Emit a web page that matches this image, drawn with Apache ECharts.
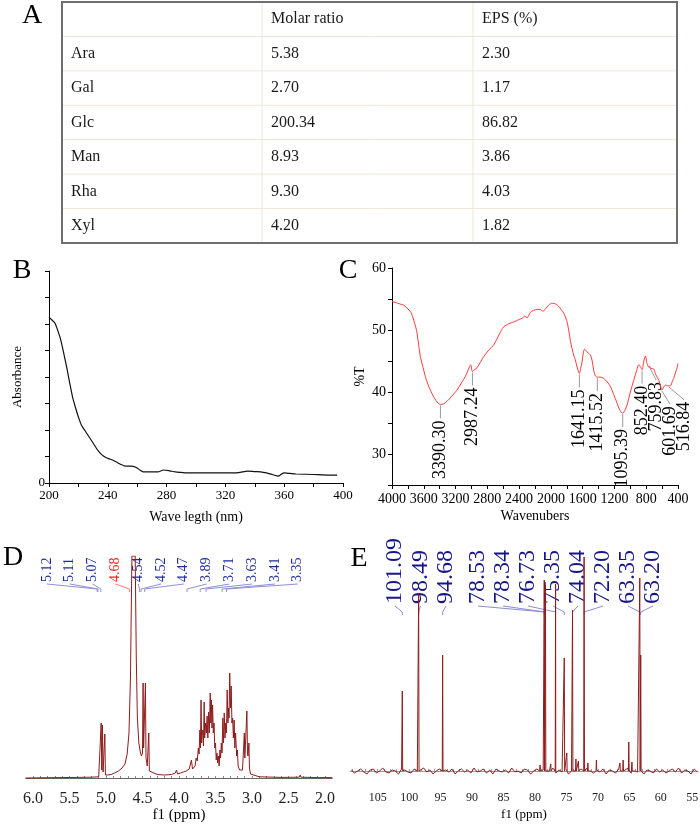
<!DOCTYPE html>
<html>
<head>
<meta charset="utf-8">
<script src="https://cdn.jsdelivr.net/npm/echarts@6.0.0/dist/echarts.min.js"></script>
<style>
  html, body { margin: 0; padding: 0; background: #fff; }
  #chart { width: 700px; height: 824px; }
</style>
</head>
<body>
<div id="chart"></div>
<script>
// ---- A: monosaccharide composition table
const tableHeader = ['', 'Molar ratio', 'EPS (%)'];
const sugars = ['Ara', 'Gal', 'Glc', 'Man', 'Rha', 'Xyl'];
const molarRatio = ['5.38', '2.70', '200.34', '8.93', '9.30', '4.20'];
const epsPercent = ['2.30', '1.17', '86.82', '3.86', '4.03', '1.82'];

// ---- B: UV spectrum
const uvWave = [200, 202, 204, 206, 208, 210, 212, 214, 216, 218, 220, 222, 226, 230, 233, 236, 239, 241, 244, 246,
  249, 252, 256, 258, 260, 262, 264, 268, 274, 278, 282, 286, 290, 294, 300, 310, 320, 325, 330, 335,
  340, 344, 348, 352, 356, 358, 360, 364, 368, 380, 390, 396];
const uvAbs = [6.26, 6.15, 6.04, 5.75, 5.40, 4.90, 4.38, 3.80, 3.25, 2.85, 2.49, 2.19, 1.85, 1.51, 1.25, 1.06, 0.95, 0.91, 0.85, 0.79,
  0.70, 0.64, 0.64, 0.62, 0.57, 0.48, 0.42, 0.42, 0.42, 0.49, 0.46, 0.42, 0.40, 0.38, 0.38, 0.38, 0.38, 0.38, 0.40, 0.45,
  0.43, 0.42, 0.38, 0.32, 0.26, 0.33, 0.38, 0.36, 0.34, 0.32, 0.30, 0.30];

// ---- C: FT-IR spectrum
const irWn = [4000, 3900, 3853, 3800, 3760, 3727, 3700, 3685, 3660, 3643,
  3610, 3580, 3550, 3517, 3470, 3420, 3390, 3350, 3307, 3250,
  3182, 3120, 3077, 3040, 3010, 2987, 2960, 2930, 2846, 2780,
  2720, 2650, 2594, 2530, 2468, 2400, 2363, 2330, 2300, 2260,
  2216, 2170, 2132, 2100, 2070, 2027, 1990, 1964, 1930, 1901,
  1870, 1838, 1800, 1776, 1755, 1734, 1710, 1692, 1670, 1641,
  1625, 1608, 1590, 1575, 1555, 1530, 1503, 1480, 1461, 1440, 1415,
  1380, 1335, 1290, 1251, 1210, 1167, 1130, 1095, 1070, 1041,
  1000, 957, 920, 894, 870, 852, 830, 810, 790, 768,
  760, 740, 705, 680, 642, 620, 601, 580, 558, 530,
  516, 495, 470, 454, 430, 410, 400];
const irT = [54.6, 54.2, 54.0, 53.4, 52.8, 51.6, 50.4, 49.5, 47.2, 45.7,
  44.0, 42.5, 41.3, 40.3, 39.1, 38.2, 38.0, 38.1, 38.5, 39.3,
  40.3, 41.6, 42.5, 43.6, 44.4, 43.3, 43.6, 43.9, 45.7, 46.8,
  47.6, 49.3, 50.5, 51.0, 51.3, 51.7, 51.9, 52.2, 52.0, 52.8,
  53.2, 53.3, 53.3, 53.0, 53.4, 54.0, 54.3, 54.3, 54.1, 53.8,
  53.3, 52.7, 51.5, 50.0, 48.3, 47.0, 45.8, 45.2, 44.0, 43.0,
  43.8, 44.8, 46.5, 46.9, 46.6, 46.3, 46.0, 45.0, 43.5, 42.6, 42.4,
  42.4, 42.2, 41.6, 40.9, 39.6, 38.2, 37.0, 36.6, 37.0, 37.9,
  40.0, 41.9, 43.5, 44.4, 44.0, 43.6, 45.0, 45.8, 44.6, 44.0,
  44.2, 43.8, 43.7, 42.8, 41.9, 41.0, 40.3, 40.8, 41.1, 41.0,
  41.0, 41.0, 41.8, 42.2, 43.2, 44.0, 44.6];
const irPeakWn = [3390.30, 2987.24, 1641.15, 1415.52, 1095.39, 852.40, 759.83, 601.69, 516.84];
const irPeakT = [38.0, 43.3, 43.0, 42.4, 36.6, 43.6, 44.2, 40.3, 41.0];

// ---- D: 1H NMR
const dPpm = [6.10, 5.80, 5.50, 5.20, 5.10, 5.075, 5.066, 5.058, 5.049, 5.040, 5.030, 5.016, 5.008, 4.98, 4.93, 4.88, 4.83, 4.78,
  4.74, 4.71, 4.685, 4.665, 4.645, 4.600, 4.585, 4.57, 4.55, 4.53, 4.515, 4.500, 4.492, 4.485, 4.470, 4.460, 4.452, 4.435,
  4.422, 4.414, 4.406, 4.38, 4.30, 4.20, 4.10, 4.05, 4.035, 4.02, 4.00, 3.98, 3.96, 3.94, 3.92, 3.90, 3.88, 3.86,
  3.845, 3.830, 3.815, 3.80, 3.78, 3.765, 3.75, 3.735, 3.725, 3.714, 3.706, 3.698, 3.69, 3.68, 3.672, 3.665, 3.655, 3.648,
  3.635, 3.625, 3.615, 3.605, 3.595, 3.585, 3.572, 3.565, 3.555, 3.548, 3.54, 3.53, 3.52, 3.51, 3.50, 3.49, 3.48, 3.47,
  3.46, 3.45, 3.44, 3.43, 3.42, 3.41, 3.40, 3.39, 3.38, 3.37, 3.36, 3.35, 3.34, 3.33, 3.32, 3.315, 3.305, 3.295,
  3.285, 3.275, 3.265, 3.255, 3.245, 3.235, 3.225, 3.21, 3.20, 3.19, 3.17, 3.15, 3.13, 3.105, 3.098, 3.09,
  3.07, 3.062, 3.055, 3.042, 3.035, 3.02, 3.00, 2.90, 2.60, 2.35, 2.34, 2.33, 2.10, 1.90];
const dInt = [0.0, 0.3, 0.5, 0.8, 1.2, 2, 55, 8, 53, 6, 4, 44, 3, 3, 3.5, 5, 7, 10,
  14, 24, 45, 100, 222, 222, 120, 60, 35, 26, 22, 25, 95, 30, 28, 95, 20, 12,
  11, 45, 7, 5, 3.5, 3, 3.5, 5, 8, 4, 3, 5, 4, 6, 5, 7, 6, 9,
  8, 18, 9, 8, 12, 20, 17, 30, 24, 48, 30, 78, 35, 45, 48, 32, 76, 40,
  55, 45, 62, 40, 66, 45, 85, 55, 78, 50, 73, 45, 55, 30, 35, 18, 25, 15,
  22, 12, 28, 20, 35, 25, 60, 35, 65, 40, 55, 45, 88, 55, 70, 60, 105, 70,
  92, 55, 60, 40, 58, 30, 45, 22, 28, 12, 8, 6, 8, 45, 20, 18,
  67, 25, 22, 35, 10, 4, 2.5, 1.2, 0.6, 0.8, 3, 0.8, 0.4, 0.4];
const dLabels = ['5.12', '5.11', '5.07', '4.68', '4.54', '4.52', '4.47', '3.89', '3.71', '3.63', '3.41', '3.35'];
const dTickLabels = [2.0, 2.5, 3.0, 3.5, 4.0, 4.5, 5.0, 5.5, 6.0];

// ---- E: 13C NMR
const eNoiseStart = 109.2;   // baseline samples every 0.5 ppm
const eNoise = [1, -2, 0, 2, -1, -3, 1, 2, -2, 0,
  3, -1, -2, 1, 0, -3, 2, 1, -1, -2,
  2, 0, -2, 3, -1, 1, -3, 0, 2, -2,
  1, -1, 2, -3, 0, 2, -1, 1, -2, 3,
  -1, 0, 2, -2, 1, -3, 2, 0, -1, 1,
  -2, 3, -1, 0, -2, 2, 1, -3, 0, 2,
  -1, 1, -2, 0, 3, -2, 1, -1, 2, -3,
  0, 1, -2, 2, -1, 3, 0, -2, 1, -1,
  2, -3, 1, 0, -2, 2, -1, 1, 3, -2,
  0, -1, 2, -3, 1, 0, -2, 2, -1, 1,
  -2, 0, 2, -1, 3, -2, 1, 0, -3, 2, -1];
const ePeakPpm = [101.09, 98.49, 94.68, 79.2, 78.53, 78.34, 77.5, 76.73, 75.35, 74.95, 74.04, 73.5, 73.1, 72.20, 71.6,
  70.24, 66.5, 66.0, 65.1, 64.6, 63.35, 63.20];
const ePeakInt = [80, 178, 116, 6, 191, 186, 7, 187, 113, 18, 161, 12, 10, 214, 8,
  11, 8, 11, 29, 9, 193, 116];
const eLabels = ['101.09', '98.49', '94.68', '78.53', '78.34', '76.73', '75.35', '74.04', '72.20', '63.35', '63.20'];
const eTickLabels = [55, 60, 65, 70, 75, 80, 85, 90, 95, 100, 105];

const SERIF = '"Liberation Serif", "Times New Roman", serif';

// build the 13C trace: noisy baseline + sharp lines, sorted along the axis
const eTrace = eNoise.map((v, i) => [eNoiseStart - i * 0.5, v]);
ePeakPpm.forEach((p, i) => {
  eTrace.push([p + 0.06, 0], [p, ePeakInt[i]], [p - 0.06, 0]);
});
eTrace.sort((a, b) => b[0] - a[0]);

// ---- table graphic
const tLeft = 62, tTop = 2, tRight = 677, tBottom = 243;
const colX = [62, 262, 473];
const rowH = (tBottom - tTop) / (sugars.length + 1);
const tableRows = [tableHeader].concat(sugars.map((s, i) => [s, molarRatio[i], epsPercent[i]]));
const graphics = [];
for (let r = 1; r < tableRows.length; r++) {
  graphics.push({ type: 'line', shape: { x1: tLeft, y1: tTop + r * rowH, x2: tRight, y2: tTop + r * rowH },
    style: { stroke: '#ebe8d6', lineWidth: 1 } });
}
colX.slice(1).forEach(x => {
  graphics.push({ type: 'line', shape: { x1: x, y1: tTop, x2: x, y2: tBottom }, style: { stroke: '#ebe8d6', lineWidth: 1 } });
});
graphics.push({ type: 'rect', shape: { x: tLeft, y: tTop, width: tRight - tLeft, height: tBottom - tTop },
  style: { fill: 'none', stroke: '#6e6e6e', lineWidth: 2 } });
tableRows.forEach((row, r) => {
  row.forEach((txt, c) => {
    if (!txt) return;
    graphics.push({ type: 'text', x: colX[c] + 9, y: tTop + (r + 0.5) * rowH,
      style: { text: txt, font: '16px ' + SERIF, fill: '#1a1a1a', align: 'left', verticalAlign: 'middle',
        textAlign: 'left', textVerticalAlign: 'middle' } });
  });
});
// panel letters
[['A', 32, 16], ['B', 22, 271], ['C', 348, 271], ['D', 13, 558], ['E', 359, 559]].forEach(l => {
  graphics.push({ type: 'text', x: l[1], y: l[2],
    style: { text: l[0], font: '28px ' + SERIF, fill: '#000', align: 'center', verticalAlign: 'middle',
      textAlign: 'center', textVerticalAlign: 'middle' } });
});

// ---- annotation renderers
function irLabel(params, api) {
  const i = params.dataIndex;
  // push crowded labels to the right so the rotated texts don't overlap
  let prev = -Infinity, lx = 0;
  for (let j = 0; j <= i; j++) {
    const px = api.coord([irPeakWn[j], irPeakT[j]])[0];
    lx = Math.max(px, prev + 14);
    prev = lx;
  }
  const p = api.coord([api.value(0), api.value(1)]);
  const top = p[1] + 14;
  return { type: 'group', children: [
    { type: 'line', shape: { x1: p[0], y1: p[1] + 1, x2: lx, y2: top }, style: { stroke: '#9a9a9a', lineWidth: 1 } },
    { type: 'text', x: lx, y: top + 2, rotation: Math.PI / 2,
      style: { text: irPeakWn[i].toFixed(2), font: '18px ' + SERIF, fill: '#000',
        align: 'right', verticalAlign: 'middle', textAlign: 'right', textVerticalAlign: 'middle' } }
  ] };
}

function dLabel(params, api) {
  const i = params.dataIndex;
  const lx = 47 + i * 22.8;
  const px = api.coord([api.value(0), 0])[0];
  const red = dLabels[i] === '4.68';
  return { type: 'group', children: [
    { type: 'polyline', shape: { points: [[lx, 584], [px, 589], [px, 592]] },
      style: { stroke: red ? '#ff7a7a' : '#8f8fd6', lineWidth: 1, fill: 'none' } },
    { type: 'text', x: lx, y: 582, rotation: Math.PI / 2,
      style: { text: dLabels[i], font: '14px ' + SERIF, fill: red ? '#ff1a1a' : '#1c2aa0',
        align: 'left', verticalAlign: 'middle', textAlign: 'left', textVerticalAlign: 'middle' } }
  ] };
}

function eLabel(params, api) {
  const i = params.dataIndex;
  const lx = i < 3 ? 395 + i * 25.5 : 478 + (i - 3) * 25;
  const px = api.coord([api.value(0), 0])[0];
  return { type: 'group', children: [
    { type: 'polyline', shape: { points: [[lx, 606], [px, 612], [px, 615]] },
      style: { stroke: '#8c8cd2', lineWidth: 1, fill: 'none' } },
    { type: 'text', x: lx, y: 604, rotation: Math.PI / 2,
      style: { text: eLabels[i], font: '24px ' + SERIF, fill: '#16168a',
        align: 'left', verticalAlign: 'middle', textAlign: 'left', textVerticalAlign: 'middle' } }
  ] };
}

const axisText = (size, color) => ({ fontFamily: SERIF, fontSize: size, color: color || '#000' });
const blackLine = { show: true, lineStyle: { color: '#000', width: 1 } };

const dTicks = [];
for (let v = 20; v <= 60; v++) dTicks.push(v / 10);
const eTicks = [];
for (let v = 55; v <= 109; v++) eTicks.push(v);

const option = {
  animation: false,
  backgroundColor: '#fff',
  graphic: { elements: graphics },
  grid: [
    { left: 49, top: 271, width: 294, height: 212, outerBoundsMode: 'none' },
    { left: 392, top: 268, width: 286, height: 217, outerBoundsMode: 'none' },
    { left: 25.7, top: 556, width: 306.6, height: 231, outerBoundsMode: 'none' },
    { left: 350, top: 557, width: 348, height: 231, outerBoundsMode: 'none' }
  ],
  xAxis: [
    { gridIndex: 0, type: 'value', min: 200, max: 400, interval: 20,
      name: 'Wave legth (nm)', nameLocation: 'middle', nameGap: 27, nameTextStyle: axisText(14),
      axisLine: blackLine, axisTick: { length: 4, lineStyle: { color: '#000' } },
      axisLabel: Object.assign(axisText(13), { margin: 6, formatter: v => (v % 40 === 0 ? v : '') }),
      splitLine: { show: false } },
    { gridIndex: 1, type: 'value', min: 400, max: 4000, interval: 200, inverse: true,
      name: 'Wavenubers', nameLocation: 'middle', nameGap: 24, nameTextStyle: axisText(14),
      axisLine: blackLine, axisTick: { length: 4, lineStyle: { color: '#000' } },
      axisLabel: Object.assign(axisText(14), { margin: 7, formatter: v => (v % 400 === 0 ? v : '') }),
      splitLine: { show: false } },
    { gridIndex: 2, type: 'value', min: 1.9, max: 6.1, inverse: true,
      name: 'f1 (ppm)', nameLocation: 'middle', nameGap: 21, nameTextStyle: axisText(15),
      axisLine: { show: true, lineStyle: { color: '#666', width: 1 } },
      axisTick: { inside: true, length: 2, customValues: dTicks, lineStyle: { color: '#888' } },
      axisLabel: Object.assign(axisText(16, '#222'), { margin: 4, customValues: dTickLabels, formatter: v => v.toFixed(1) }),
      splitLine: { show: false } },
    { gridIndex: 3, type: 'value', min: 54.1, max: 109.4, inverse: true,
      name: 'f1 (ppm)', nameLocation: 'middle', nameGap: 20, nameTextStyle: axisText(13),
      axisLine: { show: true, lineStyle: { color: '#999', width: 1 } },
      axisTick: { inside: true, length: 2, customValues: eTicks, lineStyle: { color: '#999' } },
      axisLabel: Object.assign(axisText(12, '#222'), { margin: 4, customValues: eTickLabels }),
      splitLine: { show: false } }
  ],
  yAxis: [
    { gridIndex: 0, type: 'value', min: 0, max: 8, interval: 1,
      name: 'Absorbance', nameLocation: 'middle', nameGap: 25, nameTextStyle: axisText(13),
      axisLine: blackLine, axisTick: { length: 4, lineStyle: { color: '#000' } },
      axisLabel: Object.assign(axisText(13), { margin: 4, formatter: v => (v === 0 ? '0' : '') }),
      splitLine: { show: false } },
    { gridIndex: 1, type: 'value', min: 25, max: 60, interval: 5,
      name: '%T', nameLocation: 'middle', nameGap: 25, nameTextStyle: axisText(14),
      axisLine: blackLine, axisTick: { length: 4, lineStyle: { color: '#000' } },
      axisLabel: Object.assign(axisText(14), { margin: 6, formatter: v => (v % 10 === 0 ? v : '') }),
      splitLine: { show: false } },
    { gridIndex: 2, type: 'value', min: -9, max: 222, show: false, splitLine: { show: false } },
    { gridIndex: 3, type: 'value', min: -17, max: 214, show: false, splitLine: { show: false } }
  ],
  series: [
    { type: 'line', xAxisIndex: 0, yAxisIndex: 0, showSymbol: false, smooth: 0.2,
      data: uvWave.map((w, i) => [w, uvAbs[i]]), lineStyle: { color: '#111', width: 1.2 } },
    { type: 'line', xAxisIndex: 1, yAxisIndex: 1, showSymbol: false, smooth: 0.3,
      data: irWn.map((w, i) => [w, irT[i]]), lineStyle: { color: '#ff3c3c', width: 1 } },
    { type: 'custom', xAxisIndex: 1, yAxisIndex: 1, renderItem: irLabel,
      data: irPeakWn.map((w, i) => [w, irPeakT[i]]) },
    { type: 'line', xAxisIndex: 2, yAxisIndex: 2, showSymbol: false,
      data: dPpm.map((p, i) => [p, dInt[i]]), lineStyle: { color: '#8e1c1c', width: 1 } },
    { type: 'custom', xAxisIndex: 2, yAxisIndex: 2, renderItem: dLabel,
      data: dLabels.map(s => [parseFloat(s), 0]) },
    { type: 'line', xAxisIndex: 3, yAxisIndex: 3, showSymbol: false,
      data: eTrace, lineStyle: { color: '#8e1c1c', width: 1 } },
    { type: 'custom', xAxisIndex: 3, yAxisIndex: 3, renderItem: eLabel,
      data: eLabels.map(s => [parseFloat(s), 0]) }
  ]
};

const chart = echarts.init(document.getElementById('chart'));
chart.setOption(option);
</script>
</body>
</html>
